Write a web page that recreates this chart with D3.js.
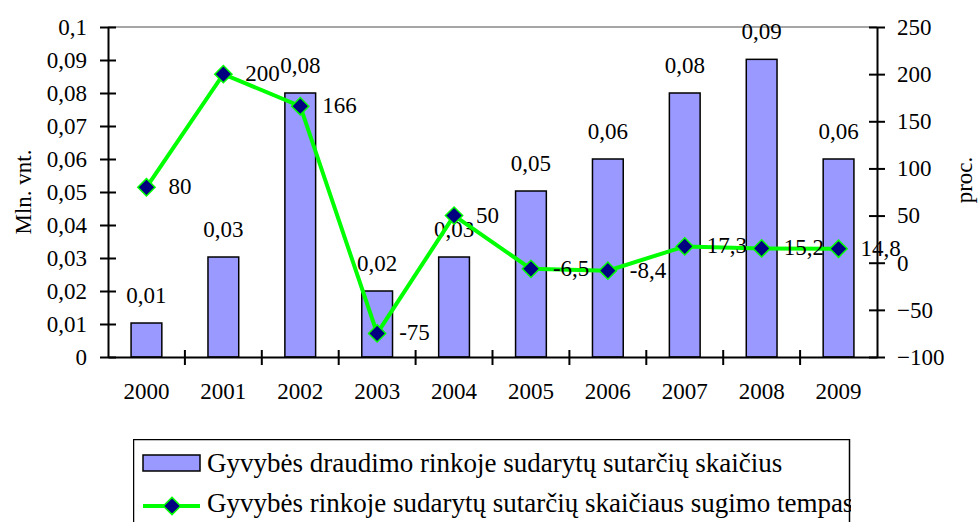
<!DOCTYPE html>
<meta charset="utf-8">
<script src="https://d3js.org/d3.v7.min.js"></script>
<style>
  body { margin: 0; background: #fff; }
  svg text { font-family: "Liberation Serif", serif; }
</style>
<div id="chart"></div>
<script>

var years = ["2000", "2001", "2002", "2003", "2004", "2005", "2006", "2007", "2008", "2009"];
var contracts = [0.0103, 0.0303, 0.080, 0.020, 0.0303, 0.0503, 0.060, 0.080, 0.0902, 0.060];
var contractLabels = ["0,01", "0,03", "0,08", "0,02", "0,03", "0,05", "0,06", "0,08", "0,09", "0,06"];
var growth = [80, 200, 166, -75, 50, -6.5, -8.4, 17.3, 15.2, 14.8];
var growthLabels = ["80", "200", "166", "-75", "50", "-6,5", "-8,4", "17,3", "15,2", "14,8"];
var leftTicks = [0, 0.01, 0.02, 0.03, 0.04, 0.05, 0.06, 0.07, 0.08, 0.09, 0.1];
var rightTicks = [-100, -50, 0, 50, 100, 150, 200, 250];
var legendNames = ["Gyvybės draudimo rinkoje sudarytų sutarčių skaičius",
                   "Gyvybės rinkoje sudarytų sutarčių skaičiaus sugimo tempas"];

var width = 978, height = 522;
var plot = {left: 108, right: 877, top: 27, bottom: 357};
var fontSize = 23;
var font = "Liberation Serif";

var svg = d3.select("#chart").append("svg")
    .attr("width", width)
    .attr("height", height)
    .attr("font-family", font);

var x = d3.scaleBand().domain(years).range([plot.left, plot.right]).paddingInner(0).paddingOuter(0);
var yL = d3.scaleLinear().domain([0, 0.1]).range([plot.bottom, plot.top]);
var yR = d3.scaleLinear().domain([-100, 250]).range([plot.bottom, plot.top]);

function comma(d) { return String(d).replace(".", ","); }

// top border line
svg.append("line")
    .attr("x1", plot.left).attr("x2", plot.right)
    .attr("y1", plot.top).attr("y2", plot.top)
    .attr("stroke", "#888").attr("stroke-width", 1.5);

// bars
var barW = x.bandwidth() * 0.4;
svg.selectAll(".bar")
  .data(contracts)
  .enter().append("rect")
    .attr("class", "bar")
    .attr("x", function(d, i) { return x(years[i]) + x.bandwidth() / 2 - barW / 2; })
    .attr("y", function(d) { return yL(d); })
    .attr("width", barW)
    .attr("height", function(d) { return plot.bottom - yL(d); })
    .attr("fill", "#9999FF")
    .attr("stroke", "#000")
    .attr("stroke-width", 1.5);

svg.selectAll(".barlabel")
  .data(contracts)
  .enter().append("text")
    .attr("x", function(d, i) { return x(years[i]) + x.bandwidth() / 2; })
    .attr("y", function(d) { return yL(d) - 20; })
    .attr("text-anchor", "middle")
    .attr("font-family", font)
    .attr("font-size", fontSize)
    .text(function(d, i) { return contractLabels[i]; });

// axes
var leftAxis = d3.axisLeft(yL).tickValues(leftTicks).tickSize(0).tickPadding(21)
    .tickFormat(function(d) { return comma(d3.format(".2~f")(d)); });
var gL = svg.append("g").attr("transform", "translate(" + plot.left + ",0)").call(leftAxis);

var rightAxis = d3.axisRight(yR).tickValues(rightTicks).tickSize(0).tickPadding(20);
var gR = svg.append("g").attr("transform", "translate(" + plot.right + ",0)").call(rightAxis);

var bottomAxis = d3.axisBottom(x).tickSize(0).tickPadding(26);
var gB = svg.append("g").attr("transform", "translate(0," + plot.bottom + ")").call(bottomAxis);

[gL, gR, gB].forEach(function(g) {
  g.attr("font-family", font).attr("font-size", fontSize);
  g.select(".domain").attr("stroke", "#000").attr("stroke-width", 2);
  g.selectAll("text").attr("font-family", font).attr("font-size", fontSize).attr("fill", "#000");
});

// crossing tick marks
gL.selectAll(".tick").append("line").attr("x1", -8).attr("x2", 8).attr("stroke", "#000").attr("stroke-width", 2);
gR.selectAll(".tick").append("line").attr("x1", -8).attr("x2", 8).attr("stroke", "#000").attr("stroke-width", 2);
svg.append("g").selectAll("line")
  .data(years.slice(1))
  .enter().append("line")
    .attr("x1", function(d) { return x(d); })
    .attr("x2", function(d) { return x(d); })
    .attr("y1", plot.bottom - 7).attr("y2", plot.bottom + 8)
    .attr("stroke", "#000").attr("stroke-width", 2);

// axis titles
svg.append("text")
    .attr("transform", "translate(31,192) rotate(-90)")
    .attr("text-anchor", "middle")
    .attr("font-family", font)
    .attr("font-size", fontSize)
    .text("Mln. vnt.");
svg.append("text")
    .attr("transform", "translate(972,180) rotate(-90)")
    .attr("text-anchor", "middle")
    .attr("font-family", font)
    .attr("font-size", fontSize)
    .text("proc.");

// line
var cx = function(d, i) { return x(years[i]) + x.bandwidth() / 2; };
var line = d3.line().x(cx).y(function(d) { return yR(d); });
svg.append("path")
    .datum(growth)
    .attr("d", line)
    .attr("fill", "none")
    .attr("stroke", "#00FF00")
    .attr("stroke-width", 4);

var diamond = d3.symbol().type(d3.symbolDiamond2).size(190);
svg.selectAll(".marker")
  .data(growth)
  .enter().append("path")
    .attr("class", "marker")
    .attr("d", diamond)
    .attr("transform", function(d, i) { return "translate(" + cx(d, i) + "," + yR(d) + ")"; })
    .attr("fill", "#000080")
    .attr("stroke", "#00FF00")
    .attr("stroke-width", 1.5);

svg.selectAll(".linelabel")
  .data(growth)
  .enter().append("text")
    .attr("x", function(d, i) { return cx(d, i) + 22; })
    .attr("y", function(d) { return yR(d) + 7; })
    .attr("font-family", font)
    .attr("font-size", fontSize)
    .text(function(d, i) { return growthLabels[i]; });

// legend
svg.append("clipPath").attr("id", "legclip")
  .append("rect").attr("x", 133).attr("y", 439).attr("width", 718).attr("height", 90);

var leg = svg.append("g").attr("clip-path", "url(#legclip)");
leg.append("rect")
    .attr("x", 133.5).attr("y", 439.5).attr("width", 716).attr("height", 100)
    .attr("fill", "#fff").attr("stroke", "#000").attr("stroke-width", 1.5);

leg.append("rect")
    .attr("x", 143).attr("y", 455).attr("width", 57).attr("height", 16)
    .attr("fill", "#9999FF").attr("stroke", "#000").attr("stroke-width", 1.5);
leg.append("line")
    .attr("x1", 143).attr("x2", 200).attr("y1", 506).attr("y2", 506)
    .attr("stroke", "#00FF00").attr("stroke-width", 4);
leg.append("path")
    .attr("d", diamond)
    .attr("transform", "translate(172,506)")
    .attr("fill", "#000080").attr("stroke", "#00FF00").attr("stroke-width", 1.5);

leg.selectAll(".legtext")
  .data(legendNames)
  .enter().append("text")
    .attr("x", 207)
    .attr("y", function(d, i) { return 472 + i * 40; })
    .attr("font-family", font)
    .attr("font-size", 27)
    .text(function(d) { return d; });

</script>
